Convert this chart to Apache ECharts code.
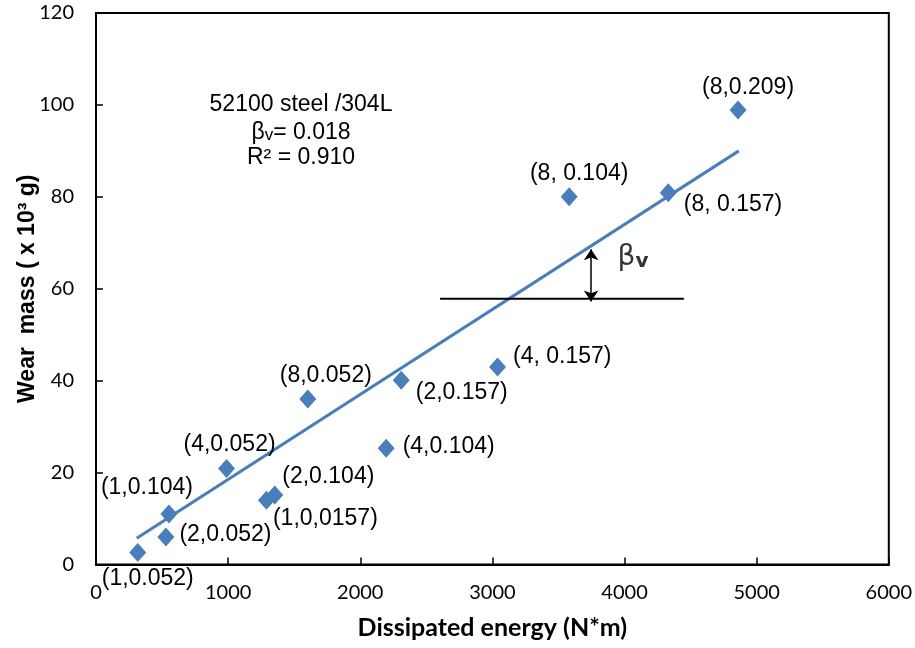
<!DOCTYPE html>
<html><head><meta charset="utf-8">
<script src="https://cdn.jsdelivr.net/npm/echarts@6/dist/echarts.min.js"></script>
<style>html,body{margin:0;padding:0;background:#fff}#c{width:915px;height:648px}</style>
</head><body><div id="c"></div>
<script>
// ---- data ----
const pointLabels = ['(1,0.052)','(1,0.104)','(2,0.052)','(4,0.052)','(1,0,0157)','(2,0.104)','(8,0.052)','(4,0.104)','(2,0.157)','(4, 0.157)','(8, 0.104)','(8, 0.157)','(8,0.209)'];
const energy   = [316, 552, 529, 988, 1290, 1353, 1603, 2196, 2310, 3039, 3581, 4331, 4859];
const wearMass = [2.6, 11.0, 6.0, 20.9, 14.0, 15.1, 36.0, 25.3, 40.1, 43.0, 80.0, 80.9, 98.9];
const trendX = [308, 4865];
const trendY = [5.7, 90.0];
const refLineX = [2604, 4449];
const refLineY = [57.8, 57.8];
const arrowX = [3747, 3747];
const arrowY = [57.2, 68.6];
const betaLabelX = [4064];
const betaLabelY = [66.7];
const xTickLabels = ['0','1000','2000','3000','4000','5000','6000'];
const yTickLabels = ['0','20','40','60','80','100','120'];
const annotationLines = ['52100 steel /304L', 'βv= 0.018', 'R² = 0.910'];

// ---- label placement (style, kept apart from data) ----
const labelPlace = [
  ['bottom',[10,0]], ['top',[-22,0]], ['right',[0,-2]], ['top',[3,2]],
  ['right',[-7,18]], ['right',[-6,-18]], ['top',[18,3]], ['right',[3,-2]],
  ['right',[1,12]], ['right',[2,-10]], ['top',[10,3]], ['right',[2,12]], ['top',[10,4]]
];

const blue = '#4a7ebb';
const scatterData = energy.map((x,i)=>({
  value:[x, wearMass[i]], name: pointLabels[i],
  label:{position: labelPlace[i][0], offset: labelPlace[i][1]}
}));

const chart = echarts.init(document.getElementById('c'), null, {renderer:'canvas'});
chart.setOption({
  animation:false,
  backgroundColor:'#fff',
  grid:{left:96, right:25, top:13, bottom:83.5, show:true, borderColor:'#000', borderWidth:2},
  xAxis:{
    type:'value', min:0, max:6000, interval:1000,
    name:'Dissipated energy (N*m)', nameLocation:'middle', nameGap:51,
    nameTextStyle:{fontFamily:'Lato', fontWeight:'bold', fontSize:25, color:'#000'},
    axisLine:{lineStyle:{color:'#000', width:2}},
    axisTick:{inside:true, length:7, lineStyle:{color:'#000', width:1.5}},
    axisLabel:{margin:18, fontFamily:'Lato', fontSize:20, color:'#000',
      formatter:(v)=>xTickLabels[Math.round(v/1000)]},
    splitLine:{show:false}
  },
  yAxis:{
    type:'value', min:0, max:120, interval:20,
    name:'Wear  mass ( x 10³ g)', nameLocation:'middle', nameGap:57, nameMoveOverlap:false,
    nameTextStyle:{fontFamily:'Liberation Sans', fontWeight:'bold', fontSize:23, color:'#000'},
    axisLine:{lineStyle:{color:'#000', width:2}},
    axisTick:{inside:true, length:7, lineStyle:{color:'#000', width:1.5}},
    axisLabel:{margin:22, fontFamily:'Lato', fontSize:20, color:'#000',
      formatter:(v)=>yTickLabels[Math.round(v/20)]},
    splitLine:{show:false}
  },
  graphic:[
    {type:'text', x:301, y:105, style:{text:annotationLines[0], align:'center', verticalAlign:'middle',
      textAlign:'center', textVerticalAlign:'middle', font:'23px "Liberation Sans"', fill:'#000'}},
    {type:'text', x:301, y:131, style:{
      text:'{a|β}{s|v}{a|= 0.018}', align:'center', verticalAlign:'middle',
      textAlign:'center', textVerticalAlign:'middle',
      rich:{a:{fontFamily:'Liberation Sans', fontSize:23, color:'#000', verticalAlign:'bottom'},
            s:{fontFamily:'Liberation Sans', fontSize:17, color:'#000', padding:[9,0,0,0], verticalAlign:'bottom'}}}},
    {type:'text', x:301, y:158, style:{text:annotationLines[2], align:'center', verticalAlign:'middle',
      textAlign:'center', textVerticalAlign:'middle', font:'23px "Liberation Sans"', fill:'#000'}}
  ],
  series:[
    {
      type:'line', data: trendX.map((x,i)=>[x, trendY[i]]),
      showSymbol:false, symbol:'none', lineStyle:{color:blue, width:3}, z:2, silent:true
    },
    {
      type:'line', data: refLineX.map((x,i)=>[x, refLineY[i]]),
      showSymbol:false, symbol:'none', lineStyle:{color:'#000', width:2}, z:2, silent:true
    },
    {
      type:'lines', coordinateSystem:'cartesian2d',
      data:[{coords: arrowX.map((x,i)=>[x, arrowY[i]])}],
      symbol:['arrow','arrow'], symbolSize:11,
      lineStyle:{color:'#000', width:1.5, opacity:1}, z:3, silent:true
    },
    {
      type:'scatter', data: betaLabelX.map((x,i)=>[x, betaLabelY[i]]), symbolSize:0, silent:true,
      label:{show:true, position:'inside', formatter:'{b|β}{v|v}',
        rich:{b:{fontFamily:'DejaVu Sans', fontSize:28, color:'#000', verticalAlign:'bottom'},
              v:{fontFamily:'DejaVu Sans', fontSize:20, color:'#000', fontWeight:'bold', verticalAlign:'bottom'}}}
    },
    {
      type:'scatter', data: scatterData, symbol:'diamond', symbolSize:[17,19],
      itemStyle:{color:blue, opacity:1}, z:4,
      label:{show:true, formatter:'{b}', fontFamily:'Liberation Sans', fontSize:23, color:'#000', distance:5}
    }
  ]
});
</script></body></html>
